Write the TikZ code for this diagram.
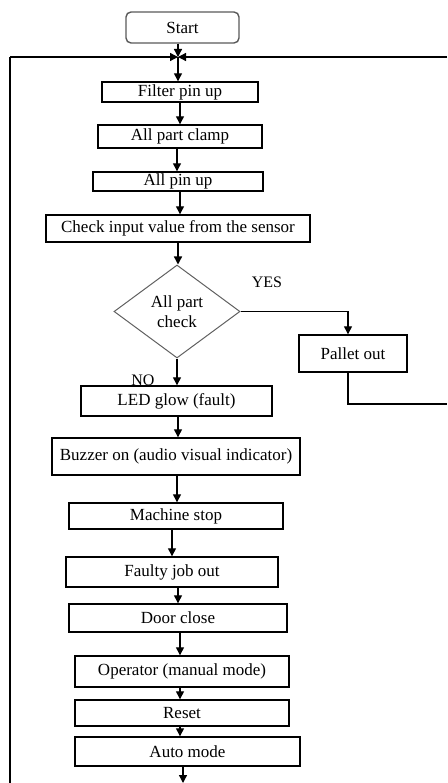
\documentclass[tikz,border=0pt]{standalone}
\usepackage{fontspec}
\setmainfont{Liberation Serif}
\usetikzlibrary{shapes.geometric,arrows.meta}
\begin{document}
\begin{tikzpicture}[x=1pt,y=-1pt,
  box/.style={draw,line width=1.4pt,inner sep=0pt,font=\fontsize{17}{20}\selectfont},
  dia/.style={draw=gray!75!black,line width=1pt,shape=diamond,aspect=1.35,inner sep=0pt,align=center,font=\fontsize{17}{20}\selectfont},
  lbl/.style={inner sep=0pt,font=\fontsize{16}{18}\selectfont},
  arr/.style={line width=1.3pt,-{Triangle[length=8pt,width=8pt]}},
  ln/.style={line width=1.3pt}]
\useasboundingbox (0,0) rectangle (447,783);
% nodes
\node[box,draw=gray!70!black,rounded corners=5pt,minimum width=113pt,minimum height=31pt] (start) at (182.5,27.5) {Start};
\node[box,minimum width=156pt,minimum height=20pt] (filter) at (180,92) {Filter pin up};
\node[box,minimum width=164pt,minimum height=23pt] (clamp) at (180,136.5) {All part clamp};
\node[box,minimum width=170pt,minimum height=19pt] (pin) at (178,181.5) {All pin up};
\node[box,minimum width=264pt,minimum height=27pt] (check) at (178,228.5) {Check input value from the sensor};
\node[dia,minimum width=126pt,minimum height=93pt] (dec) at (177,311.5) {All part\\check};
\node[box,minimum width=108pt,minimum height=37pt] (pallet) at (353,353.5) {Pallet out};
\node[box,minimum width=191pt,minimum height=30pt] (led) at (176.5,401) {LED glow (fault)};
\node[box,minimum width=248pt,minimum height=37pt] (buzzer) at (176,456.5) {Buzzer on (audio visual indicator)};
\node[box,minimum width=214pt,minimum height=26pt] (machine) at (176,516) {Machine stop};
\node[box,minimum width=212pt,minimum height=30pt] (faulty) at (172,572) {Faulty job out};
\node[box,minimum width=218pt,minimum height=28pt] (door) at (178,618) {Door close};
\node[box,minimum width=214pt,minimum height=31pt] (operator) at (182,671.5) {Operator (manual mode)};
\node[box,minimum width=214pt,minimum height=26pt] (reset) at (182,713) {Reset};
\node[box,minimum width=225pt,minimum height=29pt] (auto) at (187.5,751.5) {Auto mode};
\node[lbl] (yes) at (267,282) {YES};
\node[lbl] (no) at (143,380) {NO};
% coordinates
\coordinate (J) at (178,57);
\coordinate (TL) at (10,57);
\coordinate (TR) at (447,57);
\coordinate (BL) at (10,783);
\coordinate (BA) at (183,783);
\coordinate (PR) at (447,404);
% connectors
\draw[arr] (start.south -| J) -- (J);
\draw[arr] (TL) -- (J);
\draw[arr] (TR) -- (J);
\draw[ln] (BL) -- (TL);
\draw[arr] (J) -- (J |- filter.north);
\draw[arr] (filter.south) -- (filter.south |- clamp.north);
\draw[arr] ([xshift=-3pt]clamp.south) -- ([xshift=-3pt]clamp.south |- pin.north);
\draw[arr] ([xshift=2pt]pin.south) -- ([xshift=2pt]pin.south |- check.north);
\draw[arr] (check.south) -- (check.south |- dec.north);
\draw[arr] (dec.south) -- (dec.south |- led.north);
\draw[arr] (dec.east) -| ([xshift=-5pt]pallet.north);
\draw[ln] ([xshift=-5pt]pallet.south) |- (PR);
\draw[arr] ([xshift=1.5pt]led.south) -- ([xshift=1.5pt]led.south |- buzzer.north);
\draw[arr] ([xshift=1pt]buzzer.south) -- ([xshift=1pt]buzzer.south |- machine.north);
\draw[arr] ([xshift=-4pt]machine.south) -- ([xshift=-4pt]machine.south |- faulty.north);
\draw[arr] ([xshift=6pt]faulty.south) -- ([xshift=6pt]faulty.south |- door.north);
\draw[arr] ([xshift=2pt]door.south) -- ([xshift=2pt]door.south |- operator.north);
\draw[arr] ([xshift=-2pt]operator.south) -- ([xshift=-2pt]operator.south |- reset.north);
\draw[arr] ([xshift=-2pt]reset.south) -- ([xshift=-2pt]reset.south |- auto.north);
\draw[arr] (auto.south -| BA) -- (BA);
\end{tikzpicture}
\end{document}
